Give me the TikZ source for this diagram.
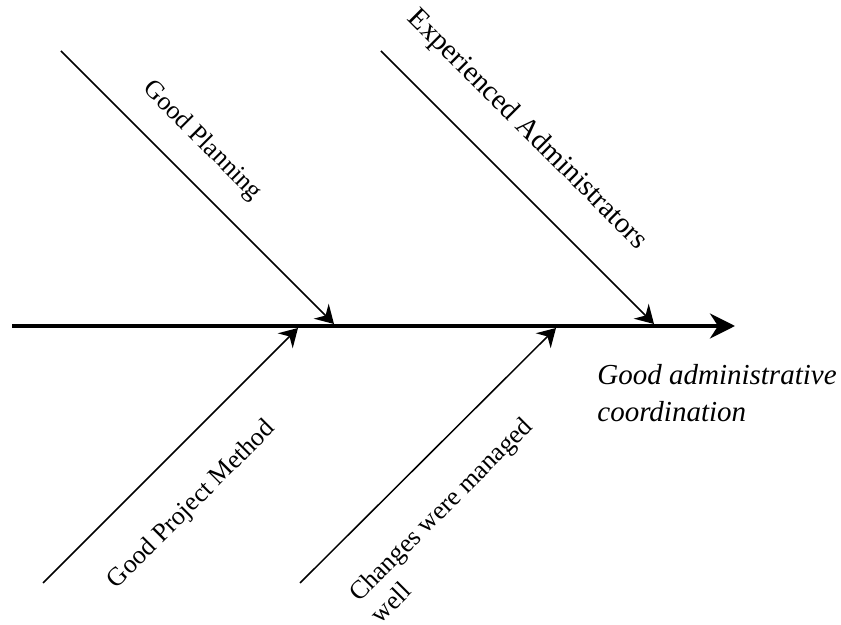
\documentclass[tikz,border=0pt]{standalone}
\usepackage{fontspec}
\setmainfont{Liberation Serif}
\usetikzlibrary{arrows.meta}

\begin{document}
\begin{tikzpicture}[
  x=0.5pt, y=-0.5pt,
  spine/.style={line width=2pt, -{Stealth[length=12.5pt, width=12.5pt, inset=4pt]}},
  bone/.style={line width=0.75pt, -{Stealth[length=9pt, width=10.5pt, inset=3pt]}},
  cause/.style={font=\fontsize{13}{15.5}\selectfont, inner sep=0pt, align=left},
  effect/.style={font=\fontsize{14.5}{18.5}\selectfont\itshape, inner sep=0pt, align=left}
]
\useasboundingbox (0,0) rectangle (841,625);

% spine
\coordinate (tail) at (12,326);
\coordinate (head) at (735,326);
\draw[spine] (tail) -- (head);

% upper bones
\coordinate (planStart) at (61,51);
\coordinate (planEnd) at (334,324);
\coordinate (adminStart) at (381,51);
\coordinate (adminEnd) at (654,324);
\draw[bone] (planStart) -- (planEnd);
\draw[bone] (adminStart) -- (adminEnd);

% lower bones
\coordinate (methodStart) at (43,583);
\coordinate (methodEnd) at (298,328);
\coordinate (changeStart) at (300,583);
\coordinate (changeEnd) at (556,328);
\draw[bone] (methodStart) -- (methodEnd);
\draw[bone] (changeStart) -- (changeEnd);

% labels
\node[cause, rotate=-45] (planning) at (202,141) {Good Planning};
\node[cause, rotate=-45, font=\fontsize{14.5}{17}\selectfont] (admins) at (527,130) {Experienced Administrators};
\node[cause, rotate=45] (method) at (192,505) {Good Project Method};
\node[cause, rotate=45] (changes) at (451,520) {Changes were managed\\well};
\node[effect, anchor=west] (result) at (597,393) {Good administrative\\coordination};
\end{tikzpicture}
\end{document}
